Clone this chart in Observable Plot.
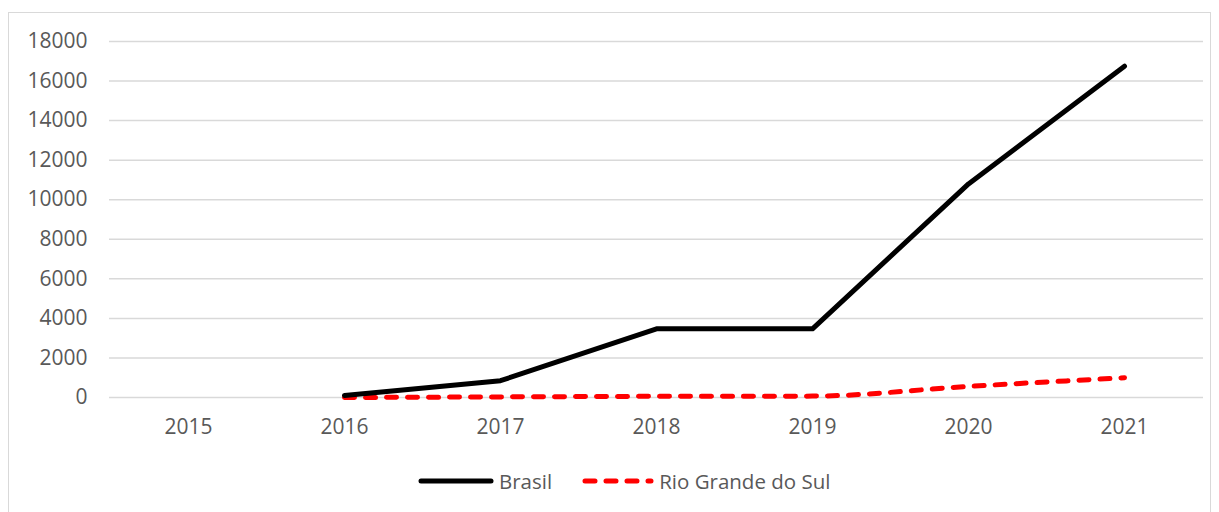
<!DOCTYPE html>
<html>
<head>
<meta charset="utf-8">
<script src="https://cdn.jsdelivr.net/npm/d3@7"></script>
<script src="https://cdn.jsdelivr.net/npm/@observablehq/plot@0.6"></script>
<style>
  html, body { margin: 0; padding: 0; background: #fff; width: 1219px; height: 512px; overflow: hidden; }
  #frame { position: absolute; left: 8px; top: 12px; width: 1201px; height: 520px; border: 1px solid #d9d9d9; }
  #chart { position: absolute; left: 0; top: 0; }
  #legend { position: absolute; left: 418px; top: 467px; display: flex; align-items: center; font-family: "Open Sans", sans-serif; font-size: 20.5px; color: #595959; }
  #legend .item { display: flex; align-items: center; margin-right: 30px; }
  #legend svg { margin-right: 5px; }
</style>
</head>
<body>
<div id="frame"></div>
<div id="chart"></div>
<div id="legend"></div>
<script>
const years = ["2015", "2016", "2017", "2018", "2019", "2020", "2021"];
const brasil = [null, 100, 850, 3470, 3470, 10800, 16750];
const rioGrandeDoSul = [null, 0, 30, 60, 70, 560, 1000];
const yTicks = [0, 2000, 4000, 6000, 8000, 10000, 12000, 14000, 16000, 18000];
const seriesNames = ["Brasil", "Rio Grande do Sul"];

const rows = [];
years.forEach((y, i) => {
  rows.push({year: y, value: brasil[i], series: seriesNames[0]});
  rows.push({year: y, value: rioGrandeDoSul[i], series: seriesNames[1]});
});
const dataBR = rows.filter(d => d.series === seriesNames[0]);
const dataRS = rows.filter(d => d.series === seriesNames[1]);

const chart = Plot.plot({
  width: 1219,
  height: 440,
  marginLeft: 109,
  marginRight: 16,
  marginTop: 41,
  marginBottom: 43,
  style: { fontFamily: "'Open Sans', sans-serif", fontSize: "21px", color: "#595959", background: "transparent", overflow: "visible" },
  x: { type: "point", domain: years, padding: 0.5, label: null },
  y: { domain: [0, 18000], ticks: yTicks, label: null },
  marks: [
    Plot.ruleY(yTicks, { stroke: "#d9d9d9", strokeWidth: 1.5 }),
    Plot.axisY({ ticks: yTicks, tickSize: 0, tickPadding: 22, label: null, tickFormat: d => String(d), fill: "#595959" }),
    Plot.axisX({ tickSize: 0, tickPadding: 22, label: null, fill: "#595959" }),
    Plot.line(dataRS, { x: "year", y: "value", stroke: "#ff0000", strokeWidth: 5, strokeDasharray: "10 11", strokeLinecap: "round", curve: "monotone-x", defined: d => d.value != null }),
    Plot.line(dataBR, { x: "year", y: "value", stroke: "#000000", strokeWidth: 5, strokeLinecap: "round", strokeLinejoin: "round", defined: d => d.value != null })
  ]
});
document.getElementById("chart").appendChild(chart);

const legend = document.getElementById("legend");
const styles = [
  { stroke: "#000", dash: null, w: 70 },
  { stroke: "#ff0000", dash: "10 11", w: 66 }
];
seriesNames.forEach((name, i) => {
  const item = document.createElement("div");
  item.className = "item";
  const s = styles[i];
  item.innerHTML = `<svg width="${s.w + 6}" height="12"><line x1="3" y1="6" x2="${s.w + 3}" y2="6" stroke="${s.stroke}" stroke-width="5" stroke-linecap="round" ${s.dash ? `stroke-dasharray="${s.dash}"` : ""}/></svg><span>${name}</span>`;
  legend.appendChild(item);
});
</script>
</body>
</html>
